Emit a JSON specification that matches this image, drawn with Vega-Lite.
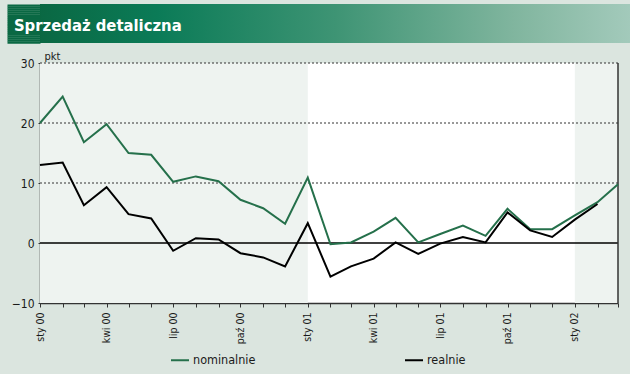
{
  "$schema": "https://vega.github.io/schema/vega-lite/v6.json",
  "background": "#dbe5df",
  "padding": {"left": 5, "top": 3, "right": 0, "bottom": 10},
  "spacing": 6,
  "resolve": {"scale": {"color": "independent", "y": "independent"}, "legend": {"color": "independent"}},
  "config": {
    "view": {"stroke": null},
    "font": "DejaVu Sans Condensed, sans-serif"
  },
  "datasets": {
    "shade": [
      {"s": "2000-01-01T00:00", "e": "2001-01-01T00:00"},
      {"s": "2002-01-01T00:00", "e": "2002-03-01T00:00"}
    ],
    "series": [
      {"date": "2000-01-01T00:00", "series": "nominalnie", "value": 20.0},
      {"date": "2000-02-01T00:00", "series": "nominalnie", "value": 24.4},
      {"date": "2000-03-01T00:00", "series": "nominalnie", "value": 16.8},
      {"date": "2000-04-01T00:00", "series": "nominalnie", "value": 19.8},
      {"date": "2000-05-01T00:00", "series": "nominalnie", "value": 15.0},
      {"date": "2000-06-01T00:00", "series": "nominalnie", "value": 14.7},
      {"date": "2000-07-01T00:00", "series": "nominalnie", "value": 10.2},
      {"date": "2000-08-01T00:00", "series": "nominalnie", "value": 11.1},
      {"date": "2000-09-01T00:00", "series": "nominalnie", "value": 10.3},
      {"date": "2000-10-01T00:00", "series": "nominalnie", "value": 7.2},
      {"date": "2000-11-01T00:00", "series": "nominalnie", "value": 5.8},
      {"date": "2000-12-01T00:00", "series": "nominalnie", "value": 3.2},
      {"date": "2001-01-01T00:00", "series": "nominalnie", "value": 10.9},
      {"date": "2001-02-01T00:00", "series": "nominalnie", "value": -0.2},
      {"date": "2001-03-01T00:00", "series": "nominalnie", "value": 0.1},
      {"date": "2001-04-01T00:00", "series": "nominalnie", "value": 1.9},
      {"date": "2001-05-01T00:00", "series": "nominalnie", "value": 4.2},
      {"date": "2001-06-01T00:00", "series": "nominalnie", "value": 0.1},
      {"date": "2001-07-01T00:00", "series": "nominalnie", "value": 1.5},
      {"date": "2001-08-01T00:00", "series": "nominalnie", "value": 2.9},
      {"date": "2001-09-01T00:00", "series": "nominalnie", "value": 1.2},
      {"date": "2001-10-01T00:00", "series": "nominalnie", "value": 5.7},
      {"date": "2001-11-01T00:00", "series": "nominalnie", "value": 2.3},
      {"date": "2001-12-01T00:00", "series": "nominalnie", "value": 2.3},
      {"date": "2002-01-01T00:00", "series": "nominalnie", "value": 4.6},
      {"date": "2002-02-01T00:00", "series": "nominalnie", "value": 6.8},
      {"date": "2002-03-01T00:00", "series": "nominalnie", "value": 9.8},
      {"date": "2000-01-01T00:00", "series": "realnie", "value": 13.0},
      {"date": "2000-02-01T00:00", "series": "realnie", "value": 13.4},
      {"date": "2000-03-01T00:00", "series": "realnie", "value": 6.3},
      {"date": "2000-04-01T00:00", "series": "realnie", "value": 9.3},
      {"date": "2000-05-01T00:00", "series": "realnie", "value": 4.8},
      {"date": "2000-06-01T00:00", "series": "realnie", "value": 4.1},
      {"date": "2000-07-01T00:00", "series": "realnie", "value": -1.3},
      {"date": "2000-08-01T00:00", "series": "realnie", "value": 0.8},
      {"date": "2000-09-01T00:00", "series": "realnie", "value": 0.6},
      {"date": "2000-10-01T00:00", "series": "realnie", "value": -1.7},
      {"date": "2000-11-01T00:00", "series": "realnie", "value": -2.4},
      {"date": "2000-12-01T00:00", "series": "realnie", "value": -3.9},
      {"date": "2001-01-01T00:00", "series": "realnie", "value": 3.3},
      {"date": "2001-02-01T00:00", "series": "realnie", "value": -5.6},
      {"date": "2001-03-01T00:00", "series": "realnie", "value": -3.9},
      {"date": "2001-04-01T00:00", "series": "realnie", "value": -2.6},
      {"date": "2001-05-01T00:00", "series": "realnie", "value": 0.1},
      {"date": "2001-06-01T00:00", "series": "realnie", "value": -1.8},
      {"date": "2001-07-01T00:00", "series": "realnie", "value": -0.1},
      {"date": "2001-08-01T00:00", "series": "realnie", "value": 1.0},
      {"date": "2001-09-01T00:00", "series": "realnie", "value": 0.1},
      {"date": "2001-10-01T00:00", "series": "realnie", "value": 5.1},
      {"date": "2001-11-01T00:00", "series": "realnie", "value": 2.1},
      {"date": "2001-12-01T00:00", "series": "realnie", "value": 1.0},
      {"date": "2002-01-01T00:00", "series": "realnie", "value": 3.9},
      {"date": "2002-02-01T00:00", "series": "realnie", "value": 6.5}
    ]
  },
  "vconcat": [
    {
      "width": 591,
      "height": 39,
      "view": {
        "stroke": null,
        "fill": {
          "gradient": "linear", "x1": 0, "y1": 0, "x2": 1, "y2": 0,
          "stops": [
            {"offset": 0, "color": "#0a6843"},
            {"offset": 0.2, "color": "#0b7b57"},
            {"offset": 0.5, "color": "#3e9474"},
            {"offset": 0.8, "color": "#80b59e"},
            {"offset": 1, "color": "#a3cabb"}
          ]
        }
      },
      "title": {
        "text": "Sprzedaż detaliczna",
        "anchor": "start",
        "offset": -31,
        "dx": 8,
        "color": "white",
        "fontSize": 16.5,
        "fontWeight": "bold",
        "font": "DejaVu Sans Condensed, sans-serif"
      },
      "data": {"values": [{"v": 0.5}]},
      "mark": {"type": "text"},
      "encoding": {
        "text": {"value": ""},
        "y": {
          "field": "v", "type": "quantitative",
          "scale": {"domain": [0, 1]},
          "axis": {
            "values": [0.025, 0.075, 0.125, 0.175, 0.225, 0.275, 0.325, 0.375, 0.425, 0.475, 0.525, 0.575, 0.625, 0.675, 0.725, 0.775, 0.825, 0.875, 0.925, 0.975],
            "labels": false,
            "domain": false,
            "grid": false,
            "title": null,
            "ticks": true,
            "tickSize": 33,
            "tickWidth": 2.2,
            "tickColor": "#0a6843",
            "tickCap": "butt",
            "tickRound": false
          }
        }
      }
    },
    {
      "width": 578,
      "height": 240,
      "view": {"fill": "white", "stroke": null},
      "layer": [
        {
          "data": {"name": "shade"},
          "mark": {"type": "rect", "color": "#eef3f0"},
          "encoding": {
            "x": {
              "field": "s", "type": "temporal",
              "scale": {"domain": [{"year": 2000, "month": 1, "date": 1}, {"year": 2002, "month": 3, "date": 1}], "nice": false},
              "axis": {
                "title": null,
                "tickCount": {"interval": "month", "step": 1},
                "labelExpr": "month(datum.value) % 3 == 0 ? ['sty','lut','mar','kwi','maj','cze','lip','sie','wrz','paź','lis','gru'][month(datum.value)] + ' ' + timeFormat(datum.value, '%y') : ''",
                "labelAngle": -90,
                "labelOverlap": false,
                "labelFlush": false,
                "labelFontSize": 10.5,
                "labelColor": "#1a1a1a",
                "labelPadding": 5,
                "tickSize": 4,
                "tickColor": "#333333",
                "domainColor": "#333333",
                "domainWidth": 1.5,
                "grid": false
              }
            },
            "x2": {"field": "e"}
          }
        },
        {
          "data": {"values": [{"v": 10}, {"v": 20}, {"v": 30}]},
          "mark": {"type": "rule", "color": "#333333", "strokeWidth": 1, "strokeDash": [2, 2]},
          "encoding": {
            "y": {
              "field": "v", "type": "quantitative",
              "scale": {"domain": [-10, 30], "nice": false, "zero": false},
              "axis": {
                "values": [-10, 0, 10, 20, 30],
                "grid": false,
                "domainColor": "#333333",
                "domainWidth": 1.5,
                "tickSize": 2,
                "tickColor": "#333333",
                "labelPadding": 4,
                "labelFontSize": 12,
                "labelColor": "#1a1a1a",
                "title": "pkt",
                "titleAngle": 0,
                "titleX": 4,
                "titleY": -4,
                "titleAlign": "left",
                "titleBaseline": "alphabetic",
                "titleFontWeight": "normal",
                "titleFontSize": 11,
                "titleColor": "#1a1a1a"
              }
            }
          }
        },
        {
          "data": {"values": [{"v": 0}]},
          "mark": {"type": "rule", "color": "#000000", "strokeWidth": 1.5},
          "encoding": {"y": {"field": "v", "type": "quantitative"}}
        },
        {
          "data": {"values": [{"d": "2002-03-01T00:00"}]},
          "mark": {"type": "rule", "color": "#333333", "strokeWidth": 1.5},
          "encoding": {"x": {"field": "d", "type": "temporal"}}
        },
        {
          "data": {"name": "series"},
          "mark": {"type": "line", "strokeWidth": 2},
          "encoding": {
            "x": {"field": "date", "type": "temporal"},
            "y": {"field": "value", "type": "quantitative"},
            "color": {
              "field": "series", "type": "nominal",
              "scale": {"domain": ["nominalnie", "realnie"], "range": ["#25704b", "#000000"]},
              "legend": {
                "title": null,
                "orient": "none",
                "legendX": 130,
                "legendY": 287,
                "direction": "horizontal",
                "symbolType": "stroke",
                "symbolSize": 324,
                "symbolStrokeWidth": 2,
                "labelFontSize": 12.5,
                "labelOffset": 3,
                "labelColor": "#1a1a1a",
                "columnPadding": 145
              }
            }
          }
        }
      ]
    }
  ]
}
